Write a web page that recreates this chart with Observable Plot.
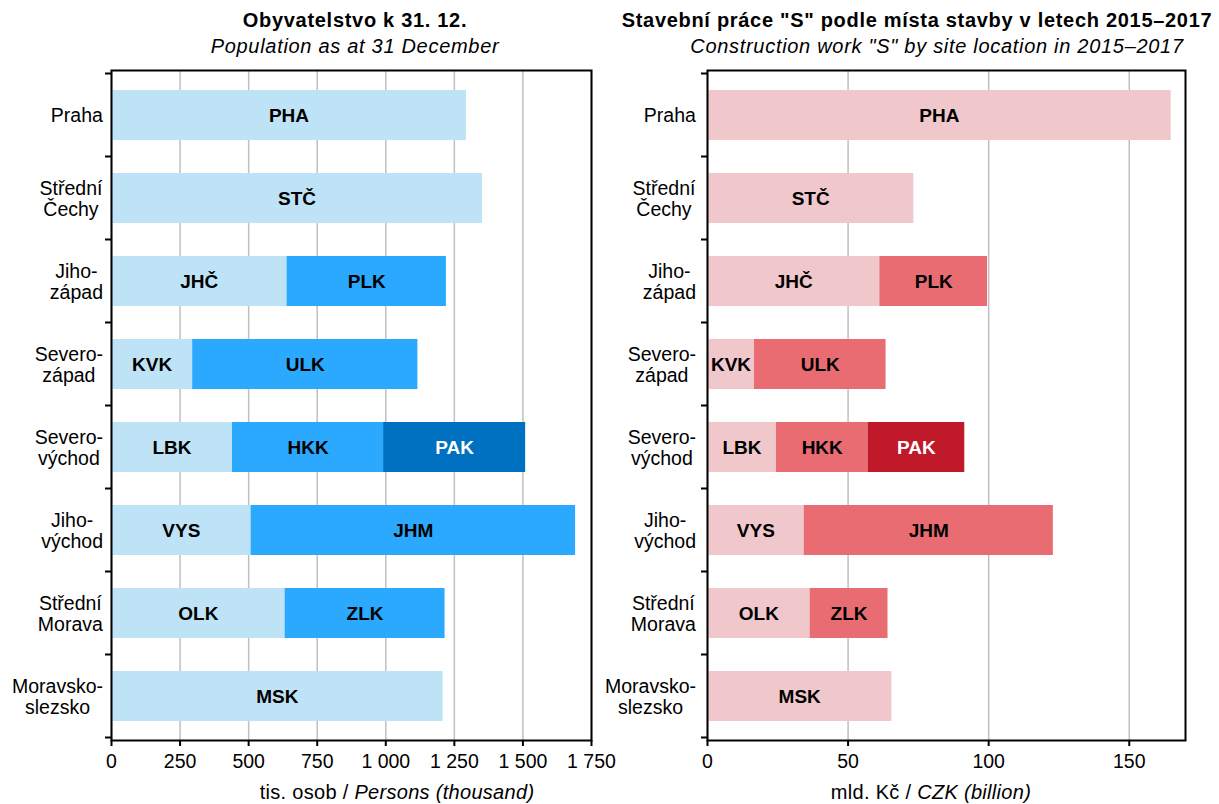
<!DOCTYPE html>
<html>
<head>
<meta charset="utf-8">
<script src="https://cdn.jsdelivr.net/npm/d3@7"></script>
<script src="https://cdn.jsdelivr.net/npm/@observablehq/plot@0.6"></script>
<style>
  html, body { margin: 0; padding: 0; background: #fff; }
  #wrap { position: relative; width: 1219px; height: 804px; font-family: "Liberation Sans", Arial, sans-serif; color: #000; overflow: hidden; }
  .t { position: absolute; white-space: nowrap; transform: translateX(-50%); font-size: 20px; line-height: 22px; letter-spacing: 0.7px; }
  .cap { letter-spacing: 0.3px; line-height: 20px; }
  .title { font-weight: bold; }
  .sub { font-style: italic; }
  .panel { position: absolute; top: 60px; }
  .panel svg { overflow: visible; }
</style>
</head>
<body>
<div id="wrap">
  <div id="left" class="panel" style="left:0px;"></div>
  <div id="right" class="panel" style="left:605px;"></div>
  <div class="t title" style="left:355px; top:9px;">Obyvatelstvo k 31. 12.</div>
  <div class="t sub" style="left:355px; top:35px;">Population as at 31 December</div>
  <div class="t title" style="left:917px; top:9px;">Stavební práce "S" podle místa stavby v letech 2015–2017</div>
  <div class="t sub" style="left:937px; top:35px;">Construction work "S" by site location in 2015–2017</div>
  <div class="t cap" style="left:397px; top:782px;">tis. osob / <i>Persons (thousand)</i></div>
  <div class="t cap" style="left:931px; top:782px;">mld. Kč / <i>CZK (billion)</i></div>
</div>
<script>
// ---- data ----
const regions = ["Praha", "Střední\nČechy", "Jiho-\nzápad", "Severo-\nzápad", "Severo-\nvýchod", "Jiho-\nvýchod", "Střední\nMorava", "Moravsko-\nslezsko"];
const codes = ["PHA", "STČ", "JHČ", "PLK", "KVK", "ULK", "LBK", "HKK", "PAK", "VYS", "JHM", "OLK", "ZLK", "MSK"];
const codeRegion = [0, 1, 2, 2, 3, 3, 4, 4, 4, 5, 5, 6, 6, 7];
const codeLevel = [0, 0, 0, 1, 0, 1, 0, 1, 2, 0, 1, 0, 1, 0];
const population = [1294, 1353, 640, 581, 296, 821, 441, 551, 518, 509, 1183, 633, 583, 1209];
const construction = [164.9, 73.4, 61.3, 38.3, 16.7, 46.8, 24.5, 32.6, 34.4, 34.4, 88.6, 36.5, 27.7, 65.6];
const popTicks = [0, 250, 500, 750, 1000, 1250, 1500, 1750];
const conTicks = [0, 50, 100, 150];
const blues = ["#bfe3f6", "#2aa9ff", "#0071c1"];
const reds = ["#f0c8cc", "#e96c73", "#c0192a"];

const FONT = "Liberation Sans, Arial, sans-serif";

function rows(values) {
  return codes.map((c, i) => ({code: c, region: regions[codeRegion[i]], level: codeLevel[i], value: values[i]}));
}

function bandTicks(index, scales, values, dimensions) {
  const y = scales.y;
  const step = y.step(), bw = y.bandwidth();
  const dom = y.domain();
  const ys = dom.map(d => y(d) - (step - bw) / 2);
  ys.push(y(dom[dom.length - 1]) + bw + (step - bw) / 2);
  const g = d3.create("svg:g").attr("stroke", "black").attr("stroke-width", 2);
  const x0 = dimensions.marginLeft;
  for (const yy of ys) g.append("line").attr("x1", x0 - 6).attr("x2", x0).attr("y1", yy).attr("y2", yy);
  return g.node();
}

function makeChart(data, colors, xDomain, ticks, fmt, width, ml, mr) {
  return Plot.plot({
    width, height: 720,
    marginLeft: ml, marginRight: mr, marginTop: 10, marginBottom: 40,
    style: {fontFamily: FONT, fontSize: "19.5px", color: "#000", background: "transparent", overflow: "visible"},
    x: {domain: xDomain, label: null},
    y: {domain: regions, paddingInner: 0.4, paddingOuter: 0.2, label: null},
    color: {domain: [0, 1, 2], range: colors},
    marks: [
      Plot.gridX(ticks, {stroke: "#c0c0c0", strokeOpacity: 1, strokeWidth: 1.5}),
      Plot.barX(data, Plot.stackX({x: "value", y: "region", fill: d => colors[d.level], order: null})),
      Plot.text(data, Plot.stackX({x: "value", y: "region", text: "code", order: null,
        fill: d => d.level === 2 ? "white" : "black", fontWeight: "bold", fontSize: 19})),
      Plot.frame({stroke: "black", strokeWidth: 2}),
      Plot.axisX(ticks, {anchor: "bottom", tickSize: 6, tickPadding: 8, tickFormat: fmt, strokeWidth: 2, fontSize: 19.5}),
      Plot.axisY({anchor: "left", tickSize: 0, tickPadding: 10, textAnchor: "middle", lineHeight: 1.077, fontSize: 19.5}),
      bandTicks
    ]
  });
}

const fmtPop = d => d3.format(",")(d).replace(/,/g, " ");
const left = makeChart(rows(population), blues, [0, 1750], popTicks, fmtPop, 605, 111, 14);
const right = makeChart(rows(construction), reds, [0, 170], conTicks, d => String(d), 614, 102, 34);
document.getElementById("left").appendChild(left);
document.getElementById("right").appendChild(right);

// right-align the (centered) multi-line y labels as a block next to the frame
function alignY(svg, target) {
  const sr = svg.getBoundingClientRect();
  svg.querySelectorAll('g[aria-label="y-axis tick label"] text').forEach(t => {
    const r = t.getBoundingClientRect();
    const dx = target - (r.right - sr.left);
    t.setAttribute("transform", (t.getAttribute("transform") || "") + ` translate(${dx},0)`);
  });
}
alignY(left, 103);
alignY(right, 91);
</script>
</body>
</html>
